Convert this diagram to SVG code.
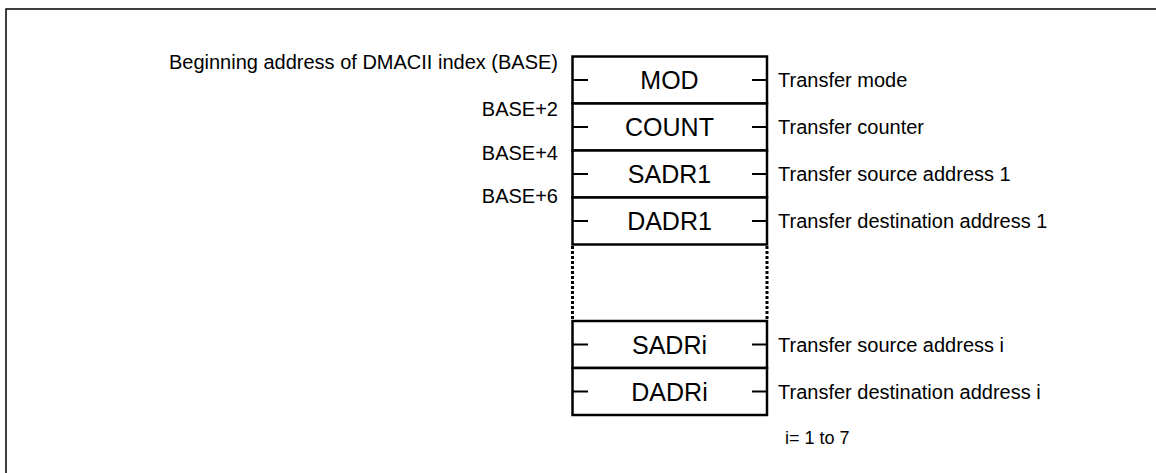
<svg xmlns="http://www.w3.org/2000/svg" width="1156" height="473" viewBox="0 0 1156 473">
  <style>
    .frame { fill: none; stroke: #000; stroke-width: 1.5; }
    .cell { fill: #fff; stroke: #000; stroke-width: 2.5; }
    .tick { stroke: #000; stroke-width: 2; }
    .side { stroke: #000; stroke-width: 3; stroke-dasharray: 3 2; }
    .reg { font-family: "Liberation Sans", Arial, sans-serif; font-size: 25px; fill: #000; text-anchor: middle; }
    .lbl { font-family: "Liberation Sans", Arial, sans-serif; font-size: 20px; fill: #000; }
    .addr { text-anchor: end; }
  </style>
  <rect width="1156" height="473" fill="#fff"/>
  <!-- outer frame -->
  <rect class="frame" x="6" y="9" width="1170" height="490"/>

  <!-- address labels -->
  <g id="addresses">
    <text class="lbl addr" x="558" y="69">Beginning address of DMACII index (BASE)</text>
    <text class="lbl addr" x="558" y="116">BASE+2</text>
    <text class="lbl addr" x="558" y="160">BASE+4</text>
    <text class="lbl addr" x="558" y="203">BASE+6</text>
  </g>

  <!-- register cells -->
  <g id="mod">
    <rect class="cell" x="572.5" y="56.5" width="194.5" height="47"/>
    <line class="tick" x1="573" y1="80" x2="588" y2="80"/>
    <line class="tick" x1="752" y1="80" x2="767" y2="80"/>
    <text class="reg" x="669.5" y="89">MOD</text>
  </g>
  <g id="count">
    <rect class="cell" x="572.5" y="103.5" width="194.5" height="47"/>
    <line class="tick" x1="573" y1="127" x2="588" y2="127"/>
    <line class="tick" x1="752" y1="127" x2="767" y2="127"/>
    <text class="reg" x="669.5" y="136">COUNT</text>
  </g>
  <g id="sadr1">
    <rect class="cell" x="572.5" y="150.5" width="194.5" height="47"/>
    <line class="tick" x1="573" y1="174" x2="588" y2="174"/>
    <line class="tick" x1="752" y1="174" x2="767" y2="174"/>
    <text class="reg" x="669.5" y="183">SADR1</text>
  </g>
  <g id="dadr1">
    <rect class="cell" x="572.5" y="197.5" width="194.5" height="47"/>
    <line class="tick" x1="573" y1="221" x2="588" y2="221"/>
    <line class="tick" x1="752" y1="221" x2="767" y2="221"/>
    <text class="reg" x="669.5" y="230">DADR1</text>
  </g>
  <g id="gap">
    <line class="side" x1="572.5" y1="246" x2="572.5" y2="321"/>
    <line class="side" x1="767" y1="246" x2="767" y2="321"/>
  </g>
  <g id="sadri">
    <rect class="cell" x="572.5" y="321" width="194.5" height="47"/>
    <line class="tick" x1="573" y1="344.5" x2="588" y2="344.5"/>
    <line class="tick" x1="752" y1="344.5" x2="767" y2="344.5"/>
    <text class="reg" x="669.5" y="353.5">SADRi</text>
  </g>
  <g id="dadri">
    <rect class="cell" x="572.5" y="368" width="194.5" height="47"/>
    <line class="tick" x1="573" y1="391.5" x2="588" y2="391.5"/>
    <line class="tick" x1="752" y1="391.5" x2="767" y2="391.5"/>
    <text class="reg" x="669.5" y="400.5">DADRi</text>
  </g>

  <!-- descriptions -->
  <g id="descriptions">
    <text class="lbl" x="778" y="87">Transfer mode</text>
    <text class="lbl" x="778" y="134">Transfer counter</text>
    <text class="lbl" x="778" y="181">Transfer source address 1</text>
    <text class="lbl" x="778" y="228">Transfer destination address 1</text>
    <text class="lbl" x="778" y="351.5">Transfer source address i</text>
    <text class="lbl" x="778" y="398.5">Transfer destination address i</text>
    <text class="lbl" x="785" y="444" style="font-size:18px">i= 1 to 7</text>
  </g>
</svg>
